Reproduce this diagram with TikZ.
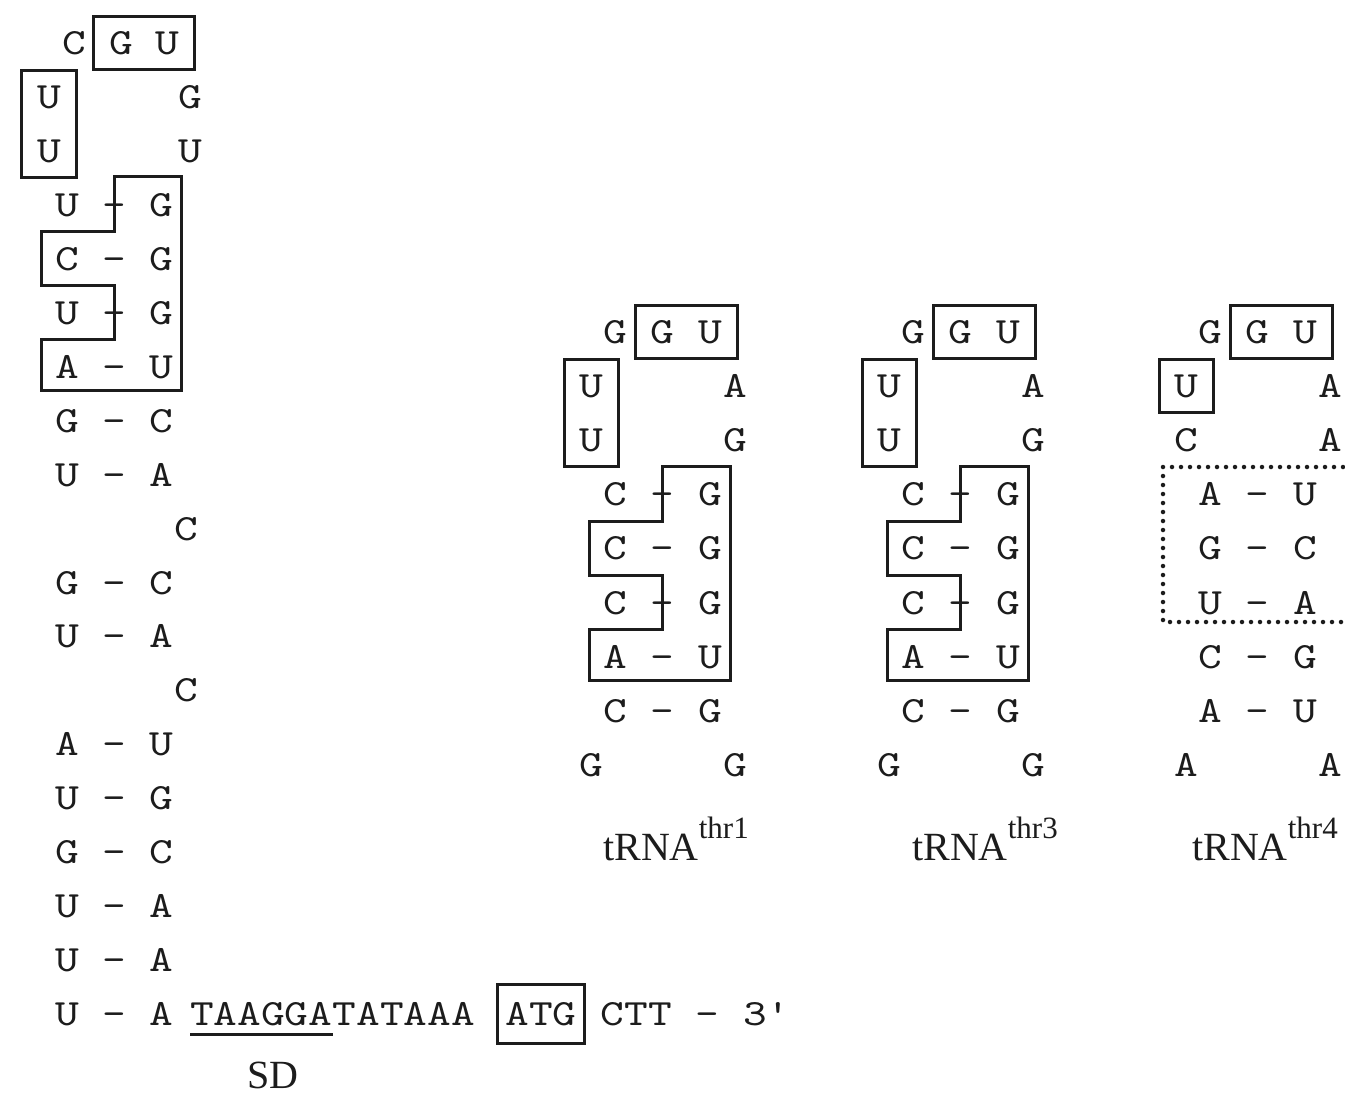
\documentclass[tikz,border=0pt]{standalone}
\usepackage{fontspec}
\setmainfont{Liberation Serif}
\newfontfamily\basefont{lmmono10-regular.otf}[FakeStretch=1.22]
\usepackage{tikz}
\usetikzlibrary{positioning,fit}
\definecolor{ink}{HTML}{1C1C1C}
\newcommand{\trna}[1]{tRNA\raisebox{22pt}{\fontsize{31}{31}\selectfont #1}}

\begin{document}
\begin{tikzpicture}[x=1pt,y=-1pt,
 nt/.style={font=\fontsize{37}{38}\basefont,text=ink,inner sep=0pt,text height=23pt,text depth=0pt,minimum width=24pt},
 box/.style={draw=ink,line width=3pt,inner xsep=15pt,inner ysep=15pt},
 outline/.style={draw=ink,line width=3pt},
 dotframe/.style={draw=ink,line width=4.5pt,line cap=round,dash pattern=on 0pt off 9pt},
 lbl/.style={font=\fontsize{40}{40}\selectfont,text=ink,inner sep=0pt}]
 \useasboundingbox[fill=white] (0,0) rectangle (1345,1096);

 % leader hairpin
 \node[nt] (lC) at (74,43) {C};
 \node[nt] (lG1) at (121,43) {G};
 \node[nt] (lU1) at (167,43) {U};
 \node[nt] (lU2) at (49,97) {U};
 \node[nt] (lG2) at (190,97) {G};
 \node[nt] (lU3) at (49,151) {U};
 \node[nt] (lU3r) at (190,151) {U};
 \node[nt] (lC10) at (186,529) {C};
 \node[nt] (lC13) at (186,690) {C};
 \foreach \r/\p/\q in {4/U/G,5/C/G,6/U/G,7/A/U,8/G/C,9/U/A,11/G/C,12/U/A,14/A/U,15/U/G,16/G/C,17/U/A,18/U/A,19/U/A}{
  \node[nt] (ll\r) at (67,{43+53.95*(\r-1)}) {\p};
  \node[nt] (ld\r) at (114,{43+53.95*(\r-1)}) {-};
  \node[nt] (lr\r) at (161,{43+53.95*(\r-1)}) {\q};
 }
 \node[box,fit=(lG1)(lU1)] {};
 \node[box,fit=(lU2)(lU3)] {};

 % 3' end
 \node[nt,anchor=west] (sd) at (190,1014) {TAAGGA};
 \node[nt,right=0pt of sd] (spacer) {TATAAA};
 \node[nt,right=30pt of spacer] (atg) {ATG};
 \node[nt,right=24pt of atg] (tail) {CTT - 3'};
 \node[box,fit=(atg),inner xsep=8pt,inner ysep=18pt] {};
 \draw[outline] ([yshift=-9pt]sd.base west) -- ([yshift=-9pt]sd.base east);
 \node[lbl] (sdlab) at (273,1075) {SD};

 % anticodon stem-loops
 \foreach \nm/\X/\lab/\cx in {a/615/thr1/676,b/913/thr3/985}{
  \node[nt] (\nm G) at (\X,332) {G};
  \node[nt] (\nm G1) at (\X+47.5,332) {G};
  \node[nt] (\nm U1) at (\X+95,332) {U};
  \node[nt] (\nm U2) at (\X-23.5,386) {U};
  \node[nt] (\nm A2) at (\X+120,386) {A};
  \node[nt] (\nm U3) at (\X-23.5,440) {U};
  \node[nt] (\nm G3) at (\X+120,440) {G};
  \node[nt] (\nm G9) at (\X-23.5,765) {G};
  \node[nt] (\nm G9r) at (\X+120,765) {G};
  \node[box,fit=(\nm G1)(\nm U1)] {};
  \node[box,fit=(\nm U2)(\nm U3)] {};
  \foreach \r/\p/\q in {4/C/G,5/C/G,6/C/G,7/A/U,8/C/G}{
   \node[nt] (\nm l\r) at (\X,{332+54.1*(\r-1)}) {\p};
   \node[nt] (\nm d\r) at (\X+47.5,{332+54.1*(\r-1)}) {-};
   \node[nt] (\nm r\r) at (\X+95,{332+54.1*(\r-1)}) {\q};
  }
  \node[lbl,anchor=base] (\nm lab) at (\cx,860) {\trna{\lab}};
 }

 \node[nt] (cG) at (1210,332) {G};
 \node[nt] (cG1) at (1257.5,332) {G};
 \node[nt] (cU1) at (1305,332) {U};
 \node[nt] (cU2) at (1186.5,386) {U};
 \node[nt] (cA2) at (1330,386) {A};
 \node[nt] (cC3) at (1186.5,440) {C};
 \node[nt] (cA3) at (1330,440) {A};
 \node[nt] (cA9) at (1186.5,765) {A};
 \node[nt] (cA9r) at (1330,765) {A};
 \node[box,fit=(cG1)(cU1)] {};
 \node[box,fit=(cU2)] {};
 \foreach \r/\p/\q in {4/A/U,5/G/C,6/U/A,7/C/G,8/A/U}{
  \node[nt] (cl\r) at (1210,{332+54.1*(\r-1)}) {\p};
  \node[nt] (cd\r) at (1257.5,{332+54.1*(\r-1)}) {-};
  \node[nt] (cr\r) at (1305,{332+54.1*(\r-1)}) {\q};
 }
 \node[lbl,anchor=base] (clab) at (1265,860) {\trna{thr4}};

 % boxed stems
 \foreach \nm in {l,a,b}{
  \draw[outline] ([yshift=28pt]\nm d4.center) -| ([xshift=20pt,yshift=-24pt]\nm r7.center)
   -| ([xshift=-26pt,yshift=27pt]\nm l7.center) -| ([yshift=-27pt]\nm d5.center)
   -| ([xshift=-26pt,yshift=27pt]\nm l5.center) -| ([yshift=28pt]\nm d4.center) -- cycle;
 }
 \coordinate (cfa) at (1352,467);
 \coordinate (cfb) at (1352,622);
 \coordinate (cfl) at ([xshift=-47pt]cl4.center);
 \draw[dotframe] (cfa) -- (cfa -| cfl) -- (cfb -| cfl) -- (cfb);
\end{tikzpicture}
\end{document}
